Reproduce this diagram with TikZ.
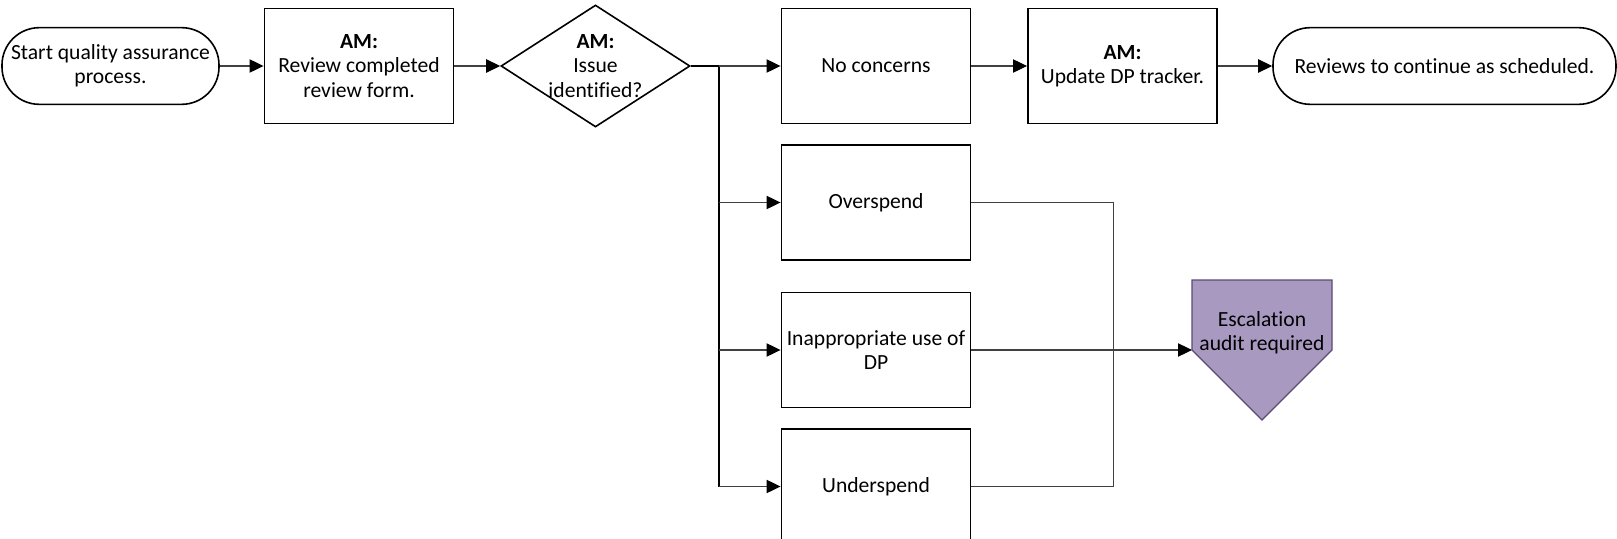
\documentclass[tikz,border=0pt]{standalone}
\usepackage{fontspec}
\setmainfont{Carlito}[Ligatures={CommonOff}]
\usetikzlibrary{arrows.meta,shapes.geometric}
\definecolor{escfill}{RGB}{168,153,192}
\definecolor{escline}{RGB}{92,74,115}
\begin{document}
\begin{tikzpicture}[x=0.75pt,y=-0.75pt,
  every node/.style={font=\fontsize{16.2}{18.2}\selectfont, align=center},
  box/.style={draw, line width=1.2pt, minimum width=142pt, minimum height=86.25pt, inner sep=2pt},
  term/.style={draw, line width=1.2pt, rounded corners=28pt, minimum height=57.5pt, inner sep=2pt},
  decision/.style={draw, diamond, line width=1.2pt, minimum width=141.75pt, minimum height=91.5pt, inner sep=0pt},
  conn/.style={draw=black!75, line width=0.8pt, -{Triangle[length=10.5pt,width=10pt,color=black]}},
  link/.style={draw=black!75, line width=0.8pt},
  trunk/.style={draw=black, line width=1.3pt}]
\useasboundingbox (0,0) rectangle (1617,539);

% top row
\node[term, minimum width=162.75pt] (start) at (110.5,66) {Start quality assurance\\process.};
\node[box] (review) at (359,66) {\textbf{AM:}\\Review completed\\review form.};
\node[decision] (dec) at (595.5,66) {};
\node (dectext) at (dec.center) {\textbf{AM:}\\Issue\\identified?};
\node[box] (nc) at (876,66) {No concerns};
\node[box] (update) at (1122.5,66) {\textbf{AM:}\\Update DP tracker.};
\node[term, minimum width=257.25pt] (cont) at (1444.5,66) {Reviews to continue as scheduled.};

% issue branches
\node[box] (over) at (876,202.5) {Overspend};
\node[box] (inap) at (876,350) {Inappropriate use of\\DP};
\node[box] (under) at (876,486.5) {Underspend};

% escalation off-page connector
\draw[fill=escfill, draw=escline, line width=1pt]
  (1192,280) -- (1332,280) -- (1332,350) -- (1262,420) -- (1192,350) -- cycle;
\node (esc) at (1262,333) {Escalation\\audit required};
\coordinate (escin) at (1192,350);

% connectors
\draw[conn] (start) -- (review);
\draw[conn] (review) -- (dec);
\coordinate (split) at (719,66);
\draw[trunk] (dec.east) -- (split) -- (split |- under.west);
\draw[conn] (split) -- (nc);
\draw[conn] (split |- over.west) -- (over.west);
\draw[conn] (split |- inap.west) -- (inap.west);
\draw[conn] (split |- under.west) -- (under.west);
\draw[conn] (nc) -- (update);
\draw[conn] (update) -- (cont);

\coordinate (merge) at (1113.5,350);
\draw[link] (over.east) -| (merge) |- (under.east);
\draw[conn] (inap.east) -- (escin);
\end{tikzpicture}
\end{document}
